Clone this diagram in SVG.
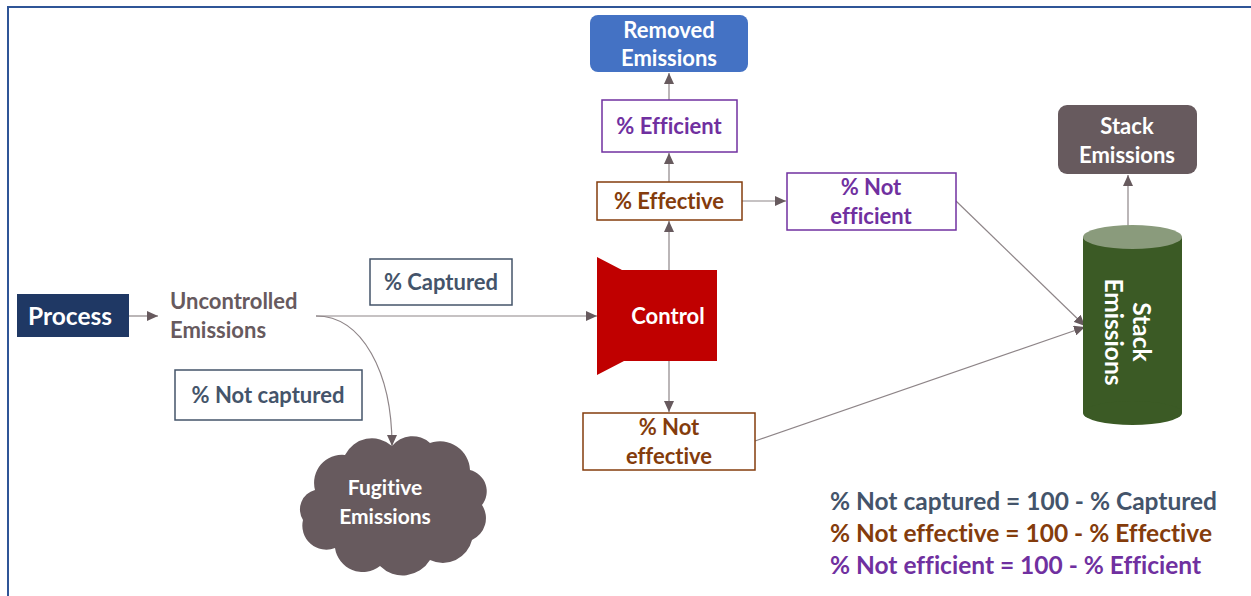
<svg xmlns="http://www.w3.org/2000/svg" width="1251" height="596" viewBox="0 0 1251 596">
<defs>
<marker id="arr" markerUnits="userSpaceOnUse" markerWidth="12" markerHeight="10" refX="11" refY="5" orient="auto">
<path d="M0,0 L11,5 L0,10 Z" fill="#675A5E"/>
</marker>
<style>
text{font-family:Lato,"Liberation Sans",sans-serif;font-weight:bold;font-variant-ligatures:none;font-feature-settings:"liga" 0,"dlig" 0;}
.w{fill:#ffffff;}
.c{text-anchor:middle;}
.conn{fill:none;stroke:#8E8588;stroke-width:1.2;}
.gray{stroke:#44546A;fill:#ffffff;stroke-width:1.5;}
.brown{stroke:#843C0C;fill:#ffffff;stroke-width:1.5;}
.purple{stroke:#7030A0;fill:#ffffff;stroke-width:1.5;}
.tg{fill:#44546A;}
.tb{fill:#843C0C;}
.tp{fill:#7030A0;}
</style>
</defs>
<rect x="0" y="0" width="1251" height="596" fill="#ffffff"/>
<rect x="8" y="7" width="1260" height="600" fill="none" stroke="#2F5597" stroke-width="2"/>

<g id="connectors">
<line class="conn" x1="129" y1="316" x2="158" y2="316" marker-end="url(#arr)"/>
<line class="conn" x1="316" y1="316" x2="597" y2="316" marker-end="url(#arr)"/>
<path class="conn" d="M316,316 C362,316 392,372 392,446" marker-end="url(#arr)"/>
<line class="conn" x1="669" y1="270" x2="669" y2="221" marker-end="url(#arr)"/>
<line class="conn" x1="669" y1="182" x2="669" y2="153" marker-end="url(#arr)"/>
<line class="conn" x1="669" y1="100" x2="669" y2="73" marker-end="url(#arr)"/>
<line class="conn" x1="742" y1="201" x2="786" y2="201" marker-end="url(#arr)"/>
<line class="conn" x1="669" y1="361" x2="669" y2="412" marker-end="url(#arr)"/>
<line class="conn" x1="956" y1="201" x2="1085" y2="326" marker-end="url(#arr)"/>
<line class="conn" x1="755" y1="441" x2="1085" y2="327" marker-end="url(#arr)"/>
<line class="conn" x1="1128" y1="226" x2="1128" y2="175" marker-end="url(#arr)"/>
</g>

<g id="process">
<rect x="17" y="294" width="112" height="43" fill="#1F3864"/>
<text class="w c" x="70" y="325" font-size="24.5">Process</text>
</g>

<g id="uncontrolled">
<text x="170" y="309" font-size="22" fill="#675A5E">Uncontrolled</text>
<text x="170" y="338" font-size="22" fill="#675A5E">Emissions</text>
</g>

<g id="captured">
<rect class="gray" x="370" y="259" width="142" height="46"/>
<text class="tg c" x="441" y="290" font-size="22">% Captured</text>
</g>

<g id="notcaptured">
<rect class="gray" x="175" y="370" width="187" height="50"/>
<text class="tg c" x="268" y="403" font-size="22">% Not captured</text>
</g>

<g id="fugitive">
<path d="M315,490 A28,28 0 0 1 345,455 A30,30 0 0 1 392,446 A26,26 0 0 1 430,443 A30,30 0 0 1 470,470 A22,22 0 0 1 482,505 A24,24 0 0 1 472,540 A30,30 0 0 1 430,560 A32,32 0 0 1 380,566 A28,28 0 0 1 335,548 A24,24 0 0 1 303,520 A20,20 0 0 1 315,490 Z" fill="#675A5E"/>
<text class="w c" x="385" y="495" font-size="21">Fugitive</text>
<text class="w c" x="385" y="524" font-size="21">Emissions</text>
</g>

<g id="control">
<path d="M597,257 L622,270 L717,270 L717,361 L624,361 L597,375 Z" fill="#C00000"/>
<text class="w c" x="668" y="324" font-size="22">Control</text>
</g>

<g id="effective">
<rect class="brown" x="597" y="182" width="145" height="38"/>
<text class="tb c" x="669" y="209" font-size="22">% Effective</text>
</g>

<g id="efficient">
<rect class="purple" x="602" y="100" width="135" height="52"/>
<text class="tp c" x="669" y="134" font-size="22">% Efficient</text>
</g>

<g id="removed">
<rect x="590" y="15" width="158" height="57" rx="8" fill="#4472C4"/>
<text class="w c" x="669" y="38" font-size="22">Removed</text>
<text class="w c" x="669" y="66" font-size="22">Emissions</text>
</g>

<g id="notefficient">
<rect class="purple" x="787" y="173" width="169" height="57"/>
<text class="tp c" x="871" y="195" font-size="22">% Not</text>
<text class="tp c" x="871" y="224" font-size="22">efficient</text>
</g>

<g id="noteffective">
<rect class="brown" x="583" y="413" width="172" height="57"/>
<text class="tb c" x="669" y="435" font-size="22">% Not</text>
<text class="tb c" x="669" y="464" font-size="22">effective</text>
</g>

<g id="stack">
<rect x="1083" y="237" width="99" height="176" fill="#3B5A25"/>
<ellipse cx="1132.5" cy="413" rx="49.5" ry="12" fill="#3B5A25"/>
<ellipse cx="1132.5" cy="237" rx="49.5" ry="12" fill="#8A9B7C"/>
<text class="w c" transform="translate(1128,332) rotate(90)" font-size="24.5"><tspan x="0" y="-5">Stack</tspan><tspan x="0" y="23">Emissions</tspan></text>
</g>

<g id="stackout">
<rect x="1058" y="105" width="139" height="69" rx="9" fill="#675A5E"/>
<text class="w c" x="1127" y="134" font-size="22">Stack</text>
<text class="w c" x="1127" y="163" font-size="22">Emissions</text>
</g>

<g id="formulas">
<text class="tg" x="830" y="510" font-size="24.5">% Not captured = 100 - % Captured</text>
<text class="tb" x="830" y="542" font-size="24.5">% Not effective = 100 - % Effective</text>
<text class="tp" x="830" y="574" font-size="24.5">% Not efficient = 100 - % Efficient</text>
</g>
</svg>
